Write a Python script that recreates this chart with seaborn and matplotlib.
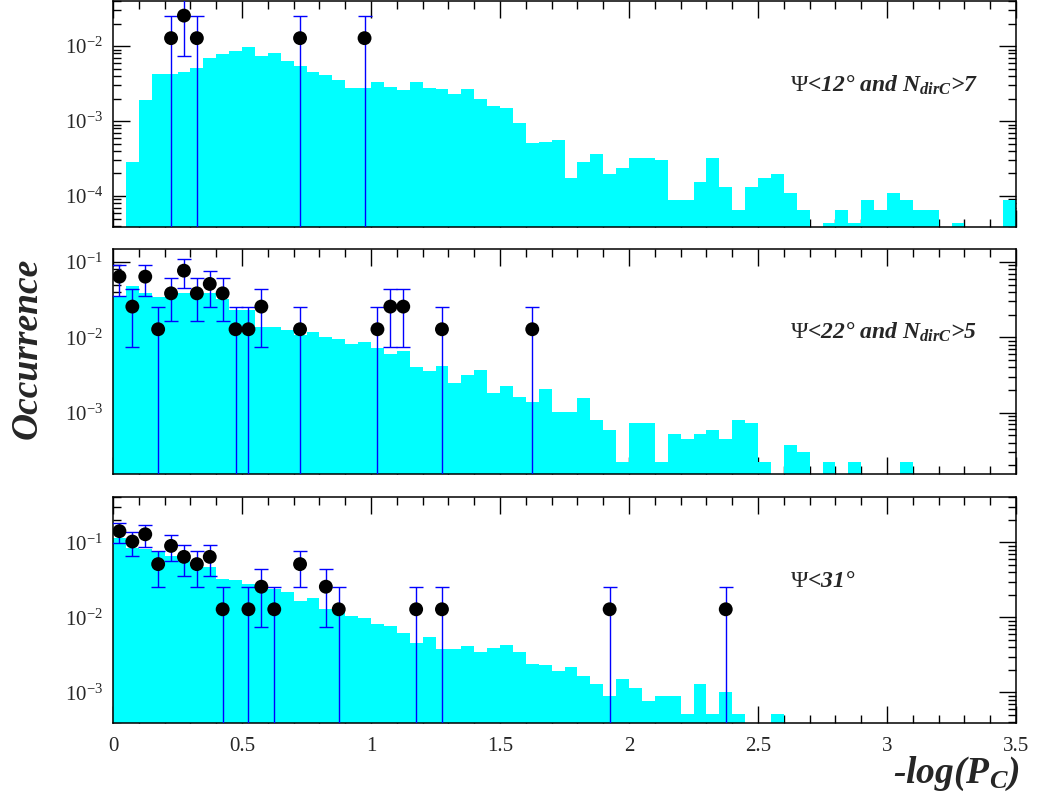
import numpy as np
import pandas as pd
import matplotlib
matplotlib.use("Agg")
import matplotlib.pyplot as plt
import seaborn as sns
from matplotlib.ticker import LogLocator, FuncFormatter, MultipleLocator, NullFormatter

# ---------------- data ----------------
n_bins = 70
x_range = (0.0, 3.5)
bin_edges = np.linspace(x_range[0], x_range[1], n_bins + 1)
bin_centers = 0.5 * (bin_edges[:-1] + bin_edges[1:])

hist_top = [0, 2.84e-4, 1.93e-3, 4.24e-3, 4.24e-3, 4.46e-3, 5.04e-3, 6.92e-3, 7.91e-3, 8.67e-3,
            9.81e-3, 7.37e-3, 8.08e-3, 6.25e-3, 5.37e-3, 4.51e-3, 4.07e-3, 3.49e-3, 2.79e-3, 2.79e-3,
            3.28e-3, 2.84e-3, 2.57e-3, 3.31e-3, 2.79e-3, 2.70e-3, 2.32e-3, 2.65e-3, 1.95e-3, 1.57e-3,
            1.48e-3, 9.41e-4, 5.04e-4, 5.25e-4, 5.65e-4, 1.72e-4, 2.81e-4, 3.67e-4, 1.95e-4, 2.39e-4,
            3.25e-4, 3.25e-4, 3.02e-4, 8.77e-5, 8.77e-5, 1.52e-4, 3.25e-4, 1.31e-4, 6.52e-5, 1.31e-4,
            1.72e-4, 1.95e-4, 1.10e-4, 6.52e-5, 0, 4.37e-5, 6.52e-5, 4.37e-5, 8.77e-5, 6.52e-5,
            1.10e-4, 8.77e-5, 6.52e-5, 6.52e-5, 0, 4.37e-5, 0, 0, 0, 8.77e-5]

hist_mid = [0.0354, 0.048, 0.0384, 0.0347, 0.0376, 0.0392, 0.0384, 0.0384, 0.0319, 0.0231,
            0.0231, 0.0136, 0.0136, 0.0125, 0.0107, 0.0119, 0.0102, 9.51e-3, 8.24e-3, 8.67e-3,
            7.29e-3, 5.95e-3, 6.65e-3, 4.08e-3, 3.54e-3, 4.16e-3, 2.45e-3, 3.16e-3, 3.68e-3, 1.84e-3,
            2.26e-3, 1.63e-3, 1.40e-3, 2.06e-3, 1.03e-3, 1.03e-3, 1.55e-3, 8.0e-4, 5.89e-4, 2.24e-4,
            7.3e-4, 7.3e-4, 2.24e-4, 5.21e-4, 4.47e-4, 5.21e-4, 5.89e-4, 4.47e-4, 8.0e-4, 7.3e-4,
            2.24e-4, 0, 3.73e-4, 2.97e-4, 0, 2.24e-4, 0, 2.24e-4, 0, 0,
            0, 2.24e-4, 0, 0, 0, 0, 0, 0, 0, 0]

hist_bot = [0.113, 0.0832, 0.0807, 0.0751, 0.0658, 0.0581, 0.0536, 0.0464, 0.0328, 0.0318,
            0.0278, 0.0262, 0.0236, 0.0220, 0.0167, 0.0179, 0.0129, 0.0132, 0.0104, 9.8e-3,
            8.15e-3, 7.66e-3, 6.12e-3, 4.50e-3, 5.52e-3, 3.78e-3, 3.78e-3, 4.15e-3, 3.41e-3, 3.94e-3,
            4.28e-3, 3.41e-3, 2.41e-3, 2.31e-3, 1.92e-3, 2.15e-3, 1.65e-3, 1.28e-3, 8.94e-4, 1.52e-3,
            1.14e-3, 7.75e-4, 8.94e-4, 8.94e-4, 5.09e-4, 1.28e-3, 5.09e-4, 1.02e-3, 5.09e-4, 0,
            0, 5.09e-4, 0, 0, 0, 0, 0, 0, 0, 0,
            0, 0, 0, 0, 0, 0, 0, 0, 0, 0]

unit = 0.0128  # occurrence per single event

pts_top_x = [0.225, 0.275, 0.325, 0.725, 0.975]
pts_top_n = [1, 2, 1, 1, 1]

pts_mid_x = [0.025, 0.075, 0.125, 0.175, 0.225, 0.275, 0.325, 0.375, 0.425, 0.475,
             0.525, 0.575, 0.725, 1.025, 1.075, 1.125, 1.275, 1.625]
pts_mid_n = [5, 2, 5, 1, 3, 6, 3, 4, 3, 1, 1, 2, 1, 1, 2, 2, 1, 1]

pts_bot_x = [0.025, 0.075, 0.125, 0.175, 0.225, 0.275, 0.325, 0.375, 0.425, 0.525,
             0.575, 0.625, 0.725, 0.825, 0.875, 1.175, 1.275, 1.925, 2.375]
pts_bot_n = [11, 8, 10, 4, 7, 5, 4, 5, 1, 1, 2, 1, 4, 2, 1, 1, 1, 1, 1]

ylims = [(3.86e-5, 0.0401), (1.53e-4, 0.149), (3.9e-4, 0.402)]
labels = [r'$\Psi$<12° and $N_{dirC}$>7', r'$\Psi$<22° and $N_{dirC}$>5', r'$\Psi$<31°']
x_ticks = [0, 0.5, 1, 1.5, 2, 2.5, 3, 3.5]
x_tick_labels = ['0', '0.5', '1', '1.5', '2', '2.5', '3', '3.5']

# ---------------- style ----------------
sns.set_style("ticks")
plt.rcParams['font.family'] = ['Liberation Serif', 'DejaVu Serif']
plt.rcParams['mathtext.fontset'] = 'custom'
plt.rcParams['mathtext.rm'] = 'Liberation Serif'
plt.rcParams['mathtext.it'] = 'Liberation Serif:italic:bold'
plt.rcParams['mathtext.bf'] = 'Liberation Serif:bold'

W, H = 1040, 802
fig = plt.figure(figsize=(W / 100, H / 100), dpi=100)

left_px, right_px = 113, 1016
panels_px = [(1, 227), (249, 474), (497, 723)]
label_base_px = [92, 339, 587]

def log_fmt(v, pos):
    e = int(np.round(np.log10(v)))
    return r'$10^{%d}$' % e

hists = [hist_top, hist_mid, hist_bot]
pts = [(pts_top_x, pts_top_n), (pts_mid_x, pts_mid_n), (pts_bot_x, pts_bot_n)]

for i, (top, bot) in enumerate(panels_px):
    ax = fig.add_axes([left_px / W, 1 - bot / H, (right_px - left_px) / W, (bot - top) / H])
    df = pd.DataFrame({'x': bin_centers, 'w': np.asarray(hists[i], dtype=float)})
    sns.histplot(data=df, x='x', weights='w', bins=n_bins, binrange=x_range, element='step',
                 fill=True, color='#00ffff', alpha=1.0, linewidth=0, ax=ax, zorder=1)
    ax.set_yscale('log')
    px, pn = pts[i]
    px = np.array(px)
    pn = np.array(pn, dtype=float)
    py = pn * unit
    err = np.sqrt(pn) * unit
    low = np.maximum(py - err, 1e-12)
    ax.errorbar(px, py, yerr=[py - low, err], fmt='none', ecolor='#0000ff',
                elinewidth=1.0, capsize=4.8, capthick=1.0, zorder=3)
    sns.scatterplot(x=px, y=py, color='black', s=100, edgecolor='none', ax=ax, zorder=4)

    ax.set_xlim(0, 3.5)
    ax.set_ylim(*ylims[i])
    ax.set_xlabel('')
    ax.set_ylabel('')
    ax.xaxis.set_major_locator(MultipleLocator(0.5))
    ax.xaxis.set_minor_locator(MultipleLocator(0.1))
    ax.yaxis.set_major_locator(LogLocator(base=10, numticks=20))
    ax.yaxis.set_minor_locator(LogLocator(base=10, subs=np.arange(2, 10), numticks=20))
    ax.yaxis.set_major_formatter(FuncFormatter(log_fmt))
    ax.yaxis.set_minor_formatter(NullFormatter())
    ax.tick_params(which='both', direction='in', top=True, right=True, width=1.0, color='black')
    ax.tick_params(which='major', length=12)
    ax.tick_params(which='minor', length=6)
    ax.tick_params(axis='y', which='major', labelsize=15, pad=7)
    ax.tick_params(axis='x', which='major', labelsize=15, pad=10)
    if i < 2:
        ax.tick_params(axis='x', labelbottom=False)
    else:
        ax.set_xticks(x_ticks)
        ax.set_xticklabels(x_tick_labels)
    for s in ax.spines.values():
        s.set_linewidth(1.1)
        s.set_color('black')
        s.set_visible(True)
    ax.set_facecolor('white')

    fig.text(790 / W, 1 - label_base_px[i] / H, labels[i], fontsize=17, fontstyle='italic',
             fontweight='bold', ha='left', va='baseline')

fig.text(27 / W, 1 - 348 / H, 'Occurrence', rotation=90, fontsize=27, fontstyle='italic',
         fontweight='bold', ha='center', va='center')
fig.text(1020 / W, 1 - 783 / H, r'-log(P$_{C}$)', fontsize=27, fontstyle='italic',
         fontweight='bold', ha='right', va='baseline')

fig.savefig('out.png', dpi=100, facecolor='white')
